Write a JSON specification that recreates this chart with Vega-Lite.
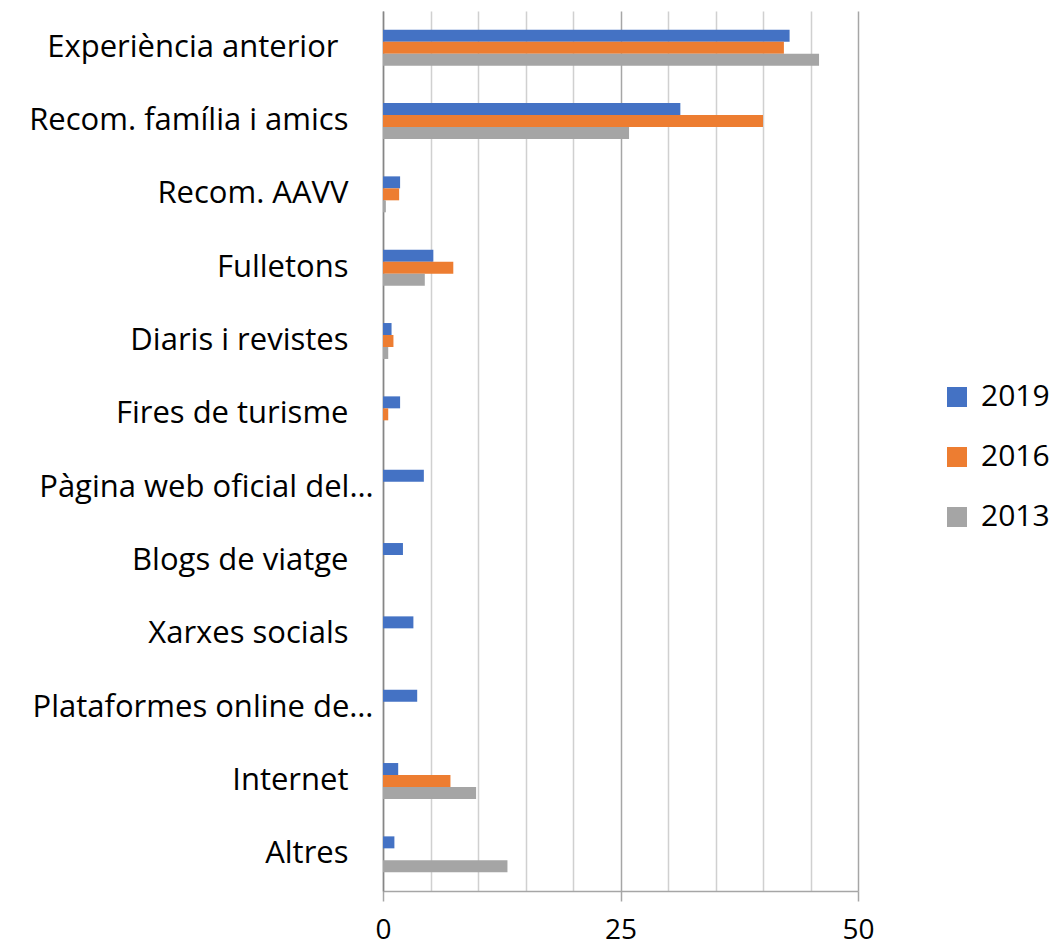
{
  "$schema": "https://vega.github.io/schema/vega-lite/v6.json",
  "autosize": {"type": "none"},
  "padding": {"left": 383, "top": 11, "right": 198, "bottom": 54},
  "width": 475,
  "height": 880,
  "background": "white",
  "config": {"view": {"stroke": null}, "font": "Open Sans"},
  "data": {"values": [
    {"cat": "Experiència anterior", "year": "2019", "v": 42.8},
    {"cat": "Experiència anterior", "year": "2016", "v": 42.2},
    {"cat": "Experiència anterior", "year": "2013", "v": 45.9},
    {"cat": "Recom. família i amics", "year": "2019", "v": 31.3},
    {"cat": "Recom. família i amics", "year": "2016", "v": 40.0},
    {"cat": "Recom. família i amics", "year": "2013", "v": 25.9},
    {"cat": "Recom. AAVV", "year": "2019", "v": 1.8},
    {"cat": "Recom. AAVV", "year": "2016", "v": 1.7},
    {"cat": "Recom. AAVV", "year": "2013", "v": 0.3},
    {"cat": "Fulletons", "year": "2019", "v": 5.3},
    {"cat": "Fulletons", "year": "2016", "v": 7.4},
    {"cat": "Fulletons", "year": "2013", "v": 4.4},
    {"cat": "Diaris i revistes", "year": "2019", "v": 0.9},
    {"cat": "Diaris i revistes", "year": "2016", "v": 1.1},
    {"cat": "Diaris i revistes", "year": "2013", "v": 0.55},
    {"cat": "Fires de turisme", "year": "2019", "v": 1.8},
    {"cat": "Fires de turisme", "year": "2016", "v": 0.55},
    {"cat": "Pàgina web oficial del…", "year": "2019", "v": 4.3},
    {"cat": "Blogs de viatge", "year": "2019", "v": 2.1},
    {"cat": "Xarxes socials", "year": "2019", "v": 3.2},
    {"cat": "Plataformes online de…", "year": "2019", "v": 3.6},
    {"cat": "Internet", "year": "2019", "v": 1.6},
    {"cat": "Internet", "year": "2016", "v": 7.1},
    {"cat": "Internet", "year": "2013", "v": 9.8},
    {"cat": "Altres", "year": "2019", "v": 1.2},
    {"cat": "Altres", "year": "2013", "v": 13.1}
  ]},
  "mark": {"type": "bar"},
  "encoding": {
    "y": {
      "field": "cat", "type": "nominal", "sort": null,
      "scale": {
        "domain": ["Experiència anterior", "Recom. família i amics", "Recom. AAVV", "Fulletons", "Diaris i revistes", "Fires de turisme", "Pàgina web oficial del…", "Blogs de viatge", "Xarxes socials", "Plataformes online de…", "Internet", "Altres"],
        "paddingInner": 0.51, "paddingOuter": 0.255
      },
      "axis": {
        "title": null, "ticks": false, "grid": false,
        "domainColor": "#868686", "domainWidth": 1.5,
        "labelFontSize": 31, "labelColor": "#000000", "labelLimit": 400,
        "labelPadding": {"condition": [
          {"test": "indexof(datum.label, '…') >= 0", "value": 10},
          {"test": "indexof(datum.label, 'Experi') >= 0", "value": 45}
        ], "value": 35}
      }
    },
    "yOffset": {"field": "year", "type": "nominal", "scale": {"domain": ["2019", "2016", "2013"], "paddingInner": 0, "paddingOuter": 0}},
    "x": {
      "field": "v", "type": "quantitative",
      "scale": {"domain": [0, 50], "nice": false},
      "axis": {
        "title": null,
        "values": [0, 5, 10, 15, 20, 25, 30, 35, 40, 45, 50],
        "labelExpr": "datum.value % 25 == 0 ? datum.label : ''",
        "labelFontSize": 28, "labelColor": "#000000", "labelPadding": 15,
        "labelFlush": false,
        "domainColor": "#A6A6A6", "domainWidth": 1.5,
        "tickSize": 10, "tickColor": "#A6A6A6", "tickWidth": 1.5,
        "tickOpacity": {"condition": {"test": "datum.value % 25 == 0", "value": 1}, "value": 0},
        "grid": true,
        "gridColor": {"condition": {"test": "datum.value % 25 == 0", "value": "#A6A6A6"}, "value": "#D0D0D0"},
        "gridWidth": 1.5
      }
    },
    "color": {
      "field": "year", "type": "nominal",
      "scale": {"domain": ["2019", "2016", "2013"], "range": ["#4472C4", "#ED7D31", "#A5A5A5"]},
      "legend": {
        "title": null, "orient": "none", "legendX": 559, "legendY": 371,
        "symbolType": "square", "symbolSize": 400, "symbolStrokeWidth": 0,
        "labelFontSize": 30, "labelColor": "#000000", "labelOffset": 9,
        "rowPadding": 30
      }
    }
  }
}
